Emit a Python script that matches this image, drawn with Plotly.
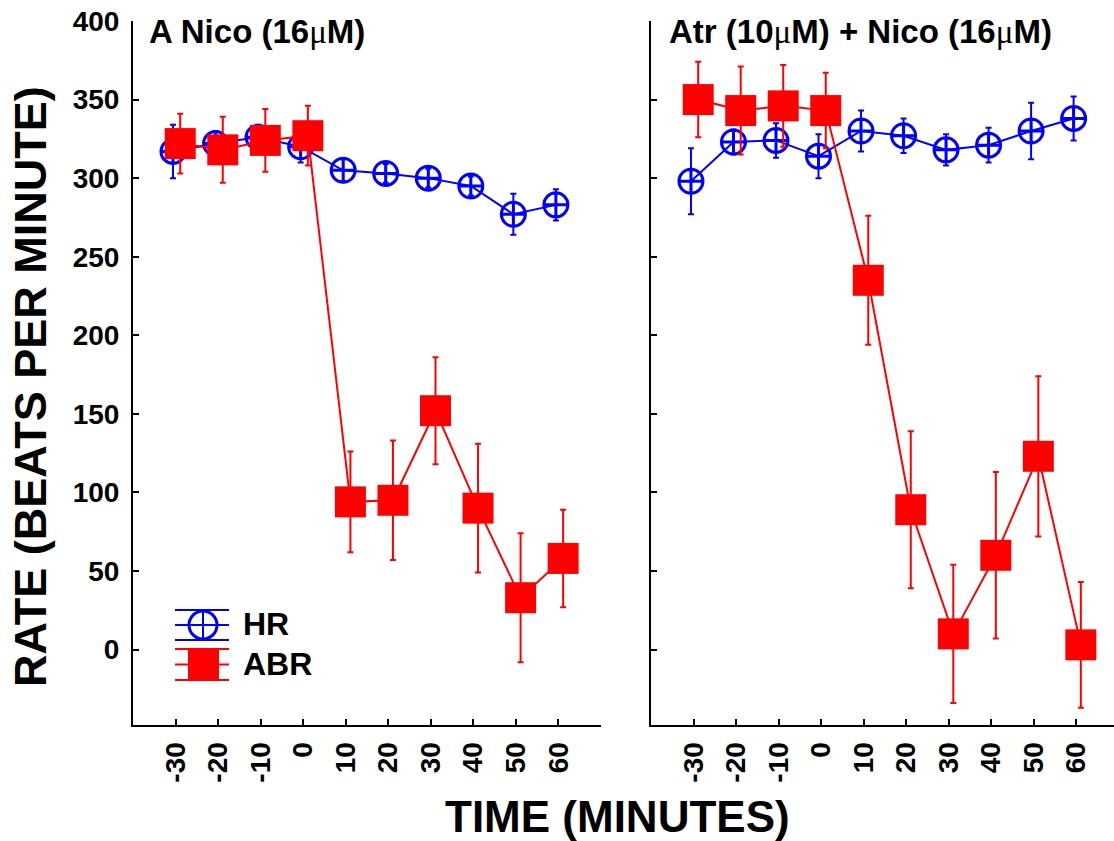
import plotly.graph_objects as go

# ---------------- data ----------------
time_min = [-30, -20, -10, 0, 10, 20, 30, 40, 50, 60]
tick_vals = [-30, -20, -10, 0, 10, 20, 30, 40, 50, 60, 70]
tick_text = ["-30", "-20", "-10", "0", "10", "20", "30", "40", "50", "60", ""]
y_ticks = [0, 50, 100, 150, 200, 250, 300, 350, 400]

hr_nico = [317, 322, 326, 320, 305, 303, 300, 295, 277, 283]
hr_nico_err = [17, 8, 8, 10, 7, 6, 6, 6, 13, 10]
abr_nico = [322, 318, 324, 327, 94, 95, 152, 90, 33, 58]
abr_nico_err = [19, 21, 20, 19, 32, 38, 34, 41, 41, 31]

hr_atr = [298, 323, 324, 314, 330, 327, 318, 321, 330, 338]
hr_atr_err = [21, 8, 11, 14, 13, 11, 10, 11, 18, 14]
abr_atr = [350, 343, 346, 343, 235, 89, 10, 60, 123, 3]
abr_atr_err = [24, 28, 26, 24, 41, 50, 44, 53, 51, 40]

MU = "<span style='font-family:Liberation Serif;font-weight:normal'>μ</span>"
panel_titles = ["A Nico (16" + MU + "M)",
                "Atr (10" + MU + "M) + Nico (16" + MU + "M)"]

# ---------------- style ----------------
W, H = 1114, 841
FONT = "Liberation Sans, Arial, sans-serif"
BLUE = "#0000FF"
RED = "#FF0000"
HR_SHIFT = -0.6
ABR_SHIFT = 1.1


def X(px):
    return px / W


def Y(py):
    return 1 - py / H


fig = go.Figure()


def add_panel(hr, hr_err, abr, abr_err, xa, ya):
    fig.add_trace(go.Scatter(
        x=[t + HR_SHIFT for t in time_min], y=hr, xaxis=xa, yaxis=ya,
        mode="lines+markers", name="HR", showlegend=False,
        line=dict(color=BLUE, width=2),
        marker=dict(symbol="circle-cross-open", size=24, color=BLUE,
                    line=dict(color=BLUE, width=3)),
        error_y=dict(type="data", array=hr_err, visible=True, color=BLUE,
                     thickness=2, width=3)))
    fig.add_trace(go.Scatter(
        x=[t + ABR_SHIFT for t in time_min], y=abr, xaxis=xa, yaxis=ya,
        mode="lines+markers", name="ABR", showlegend=False,
        line=dict(color=RED, width=2),
        marker=dict(symbol="square", size=31, color=RED,
                    line=dict(width=0)),
        error_y=dict(type="data", array=abr_err, visible=True, color=RED,
                     thickness=2, width=3)))


add_panel(hr_nico, hr_nico_err, abr_nico, abr_nico_err, "x", "y")
add_panel(hr_atr, hr_atr_err, abr_atr, abr_atr_err, "x2", "y2")

tickfont = dict(family=FONT, size=28, color="black", weight="bold")

common_x = dict(range=[-40, 70], tickmode="array", tickvals=tick_vals,
                ticktext=tick_text, tickangle=-90, ticks="inside", ticklen=6,
                tickwidth=2, tickcolor="black", showline=True, linecolor="black",
                linewidth=2, showgrid=False, zeroline=False, tickfont=tickfont,
                ticklabelstandoff=4, automargin=False)
common_y = dict(range=[-48, 400], tickmode="array", tickvals=y_ticks,
                ticks="inside", ticklen=6, tickwidth=2, tickcolor="black",
                showline=True, linecolor="black", linewidth=2, showgrid=False,
                zeroline=False, tickfont=tickfont, ticklabelstandoff=6,
                automargin=False)

y_dom = [Y(725), Y(21)]
fig.update_layout(
    width=W, height=H,
    margin=dict(l=0, r=0, t=0, b=0, autoexpand=False),
    paper_bgcolor="white", plot_bgcolor="white",
    showlegend=False,
    xaxis=dict(common_x, domain=[X(133), X(601)], anchor="y"),
    yaxis=dict(common_y, domain=y_dom, anchor="x"),
    xaxis2=dict(common_x, domain=[X(651), 1.0], anchor="y2", range=[-40, 68.9]),
    yaxis2=dict(common_y, domain=y_dom, anchor="x2", showticklabels=False),
)

title_font = dict(family=FONT, size=33, color="black", weight="bold")
annos = [
    dict(text=panel_titles[0], x=X(147), y=Y(31), xanchor="left", yanchor="middle",
         font=title_font),
    dict(text=panel_titles[1], x=X(667), y=Y(31), xanchor="left", yanchor="middle",
         font=title_font),
    dict(text="RATE (BEATS PER MINUTE)", x=X(30), y=Y(387), textangle=-90,
         xanchor="center", yanchor="middle",
         font=dict(family=FONT, size=45, color="black", weight="bold")),
    dict(text="TIME (MINUTES)", x=X(617), y=Y(816), xanchor="center", yanchor="middle",
         font=dict(family=FONT, size=44, color="black", weight="bold")),
    dict(text="HR", x=X(241), y=Y(624), xanchor="left", yanchor="middle",
         font=dict(family=FONT, size=32, color="black", weight="bold")),
    dict(text="ABR", x=X(241), y=Y(664), xanchor="left", yanchor="middle",
         font=dict(family=FONT, size=32, color="black", weight="bold")),
]
for a in annos:
    a.update(xref="paper", yref="paper", showarrow=False)
fig.update_layout(annotations=annos)

# ---------------- custom legend keys ----------------
shapes = []
for yy in (610, 625, 640):
    shapes.append(dict(type="line", x0=X(175), x1=X(229), y0=Y(yy), y1=Y(yy),
                       line=dict(color=BLUE, width=2)))
shapes.append(dict(type="circle", x0=X(189), x1=X(217), y0=Y(611), y1=Y(639),
                   line=dict(color=BLUE, width=3), fillcolor="white"))
shapes.append(dict(type="line", x0=X(203), x1=X(203), y0=Y(611), y1=Y(639),
                   line=dict(color=BLUE, width=2)))
shapes.append(dict(type="line", x0=X(189), x1=X(217), y0=Y(625), y1=Y(625),
                   line=dict(color=BLUE, width=2)))
for yy in (649, 664.5, 680):
    shapes.append(dict(type="line", x0=X(175), x1=X(229), y0=Y(yy), y1=Y(yy),
                       line=dict(color=RED, width=2)))
shapes.append(dict(type="rect", x0=X(188), x1=X(219), y0=Y(649), y1=Y(681),
                   line=dict(width=0), fillcolor=RED))
for s in shapes:
    s.update(xref="paper", yref="paper")
fig.update_layout(shapes=shapes)

fig.write_html("out.html")
